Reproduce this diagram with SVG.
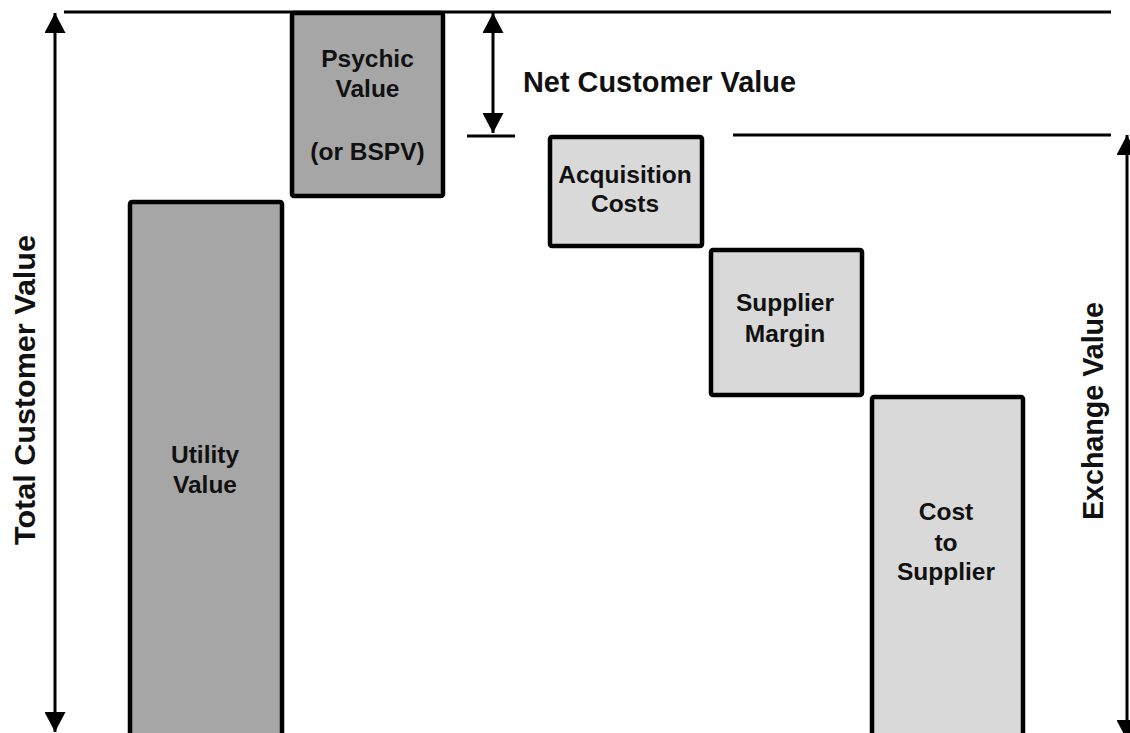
<svg xmlns="http://www.w3.org/2000/svg" width="1130" height="733" viewBox="0 0 1130 733">
<defs>
<style>
.box{stroke:#000;stroke-width:4.5;}
.dark{fill:#a6a6a6;}
.light{fill:#d9d9d9;}
.ln{stroke:#000;stroke-width:3;fill:none;}
.lbl{font-family:"Liberation Sans",Arial,sans-serif;font-weight:bold;font-size:24.5px;fill:#111;text-anchor:middle;}
.big{font-family:"Liberation Sans",Arial,sans-serif;font-weight:bold;font-size:29px;fill:#111;}
</style>
<marker id="ah" markerUnits="userSpaceOnUse" markerWidth="21" markerHeight="21" viewBox="0 0 20 21" refX="20" refY="10.5" orient="auto-start-reverse">
<path d="M0,0 L20,10.5 L0,21 Z" fill="#000"/>
</marker>
</defs>
<rect width="1130" height="733" fill="#fff"/>
<g id="connectors">
<line class="ln" x1="64" y1="12" x2="1111" y2="12"/>
<line class="ln" x1="733" y1="135" x2="1111" y2="135"/>
<line class="ln" x1="467" y1="136" x2="515" y2="136"/>
<line class="ln" x1="55" y1="13" x2="55" y2="732" marker-start="url(#ah)" marker-end="url(#ah)"/>
<line class="ln" x1="493" y1="13" x2="493" y2="133" marker-start="url(#ah)" marker-end="url(#ah)"/>
<line class="ln" x1="1127" y1="135" x2="1127" y2="740" marker-start="url(#ah)" marker-end="url(#ah)"/>
</g>
<g id="utility">
<rect class="box dark" x="130" y="202" width="152" height="560" rx="2"/>
<text class="lbl" x="205" y="463">Utility</text>
<text class="lbl" x="205" y="493">Value</text>
</g>
<g id="psychic">
<rect class="box dark" x="292" y="13" width="151" height="183" rx="2"/>
<text class="lbl" x="367.5" y="67">Psychic</text>
<text class="lbl" x="367.5" y="97">Value</text>
<text class="lbl" x="367.5" y="160">(or BSPV)</text>
</g>
<g id="acquisition">
<rect class="box light" x="550" y="137" width="152" height="109" rx="2"/>
<text class="lbl" x="625" y="183">Acquisition</text>
<text class="lbl" x="625" y="212">Costs</text>
</g>
<g id="supplier-margin">
<rect class="box light" x="711" y="250" width="151" height="145" rx="2"/>
<text class="lbl" x="785" y="311">Supplier</text>
<text class="lbl" x="785" y="342">Margin</text>
</g>
<g id="cost-to-supplier">
<rect class="box light" x="872" y="397" width="151" height="360" rx="2"/>
<text class="lbl" x="946" y="520">Cost</text>
<text class="lbl" x="946" y="551">to</text>
<text class="lbl" x="946" y="580">Supplier</text>
</g>
<g id="labels">
<text class="big" x="523" y="92" textLength="273" lengthAdjust="spacingAndGlyphs">Net Customer Value</text>
<text class="big" transform="translate(35,390) rotate(-90)" text-anchor="middle" textLength="310" lengthAdjust="spacingAndGlyphs">Total Customer Value</text>
<text class="big" transform="translate(1103,411) rotate(-90)" text-anchor="middle" textLength="218" lengthAdjust="spacingAndGlyphs">Exchange Value</text>
</g>
</svg>
